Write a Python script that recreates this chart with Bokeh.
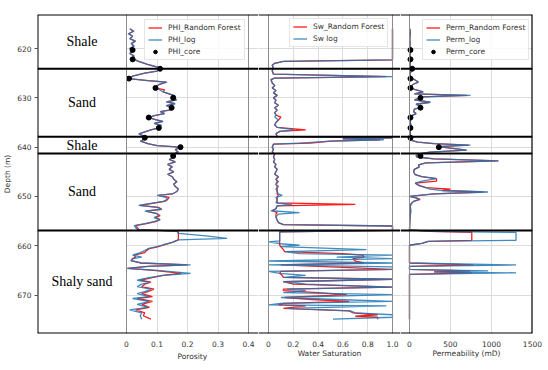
from bokeh.plotting import figure
from bokeh.layouts import row
from bokeh.models import Range1d, FixedTicker, Span, Legend, LegendItem, Title
from bokeh.core.properties import value
from bokeh.embed import file_html
from bokeh.resources import INLINE

# ---------------- data ----------------
zone_edges = [613.1, 624.1, 637.9, 641.3, 656.9, 677.8]
zone_names = ["Shale", "Sand", "Shale", "Sand", "Shaly sand"]
depth_ticks = [620, 630, 640, 650, 660, 670]
phi_ticks = [0, 0.1, 0.2, 0.3, 0.4]
sw_ticks = [0, 0.2, 0.4, 0.6, 0.8, 1.0]
perm_ticks = [0, 500, 1000, 1500]

phi_depth = [616.0, 616.5, 617.0, 617.5, 618.0, 618.5, 619.0, 619.5, 620.0, 620.5,
             621.0, 621.5, 622.1, 622.6, 623.2, 623.7, 624.1, 624.6, 625.0, 625.6,
             626.1, 626.5, 626.8, 627.2, 627.6, 628.0, 628.4, 628.8, 629.2, 629.6,
             630.0, 630.4, 630.8, 631.2, 631.6, 632.0, 632.4, 632.8, 633.2, 633.6,
             634.0, 634.4, 634.8, 635.2, 635.6, 636.1, 636.5, 636.9, 637.3, 637.8,
             638.3, 638.8, 639.3, 639.7, 640.0, 640.5, 641.0, 641.5, 642.0, 642.5,
             643.0, 643.5, 644.0, 644.5, 645.0, 645.5, 646.0, 646.5, 647.0, 647.5,
             648.0, 648.5, 649.0, 649.5, 649.8, 650.2, 650.6, 651.0, 651.4, 651.8,
             652.2, 652.6, 653.0, 653.5, 653.9, 654.3, 654.7, 655.1, 655.5, 655.9,
             656.3, 656.7, 657.1, 657.5, 658.0, 658.5, 658.8, 659.3, 659.8, 660.2,
             660.6, 661.0, 661.4, 661.9, 662.3, 662.6, 663.0, 663.5, 663.9, 664.2,
             664.6, 665.0, 665.6, 666.0, 666.5, 667.0, 667.4, 667.8, 668.3, 668.8,
             669.3, 669.7, 670.3, 670.7, 671.3, 671.9, 672.5, 673.0, 673.6, 674.2,
             674.9]
phi_log = [0.010, 0.025, 0.005, 0.020, 0.010, 0.030, 0.015, 0.025, 0.010, 0.020,
           0.010, 0.025, 0.020, 0.040, 0.070, 0.100, 0.110, 0.100, 0.060, 0.020,
           0.005, 0.070, 0.133, 0.110, 0.100, 0.095, 0.110, 0.120, 0.140, 0.160,
           0.153, 0.165, 0.130, 0.160, 0.130, 0.148, 0.150, 0.110, 0.125, 0.090,
           0.073, 0.095, 0.120, 0.090, 0.115, 0.106, 0.080, 0.060, 0.040, 0.057,
           0.060, 0.045, 0.070, 0.100, 0.177, 0.160, 0.170, 0.150, 0.155, 0.140,
           0.160, 0.135, 0.150, 0.140, 0.155, 0.135, 0.150, 0.155, 0.165, 0.155,
           0.160, 0.170, 0.165, 0.150, 0.100, 0.130, 0.135, 0.120, 0.080, 0.040,
           0.100, 0.115, 0.060, 0.100, 0.105, 0.090, 0.110, 0.090, 0.060, 0.025,
           0.030, 0.035, 0.166, 0.170, 0.260, 0.330, 0.170, 0.150, 0.120, 0.100,
           0.070, 0.060, 0.045, 0.020, 0.050, 0.020, 0.015, 0.050, 0.210, 0.070,
           0.000, 0.100, 0.210, 0.120, 0.070, 0.035, 0.075, 0.050, 0.035, 0.080,
           0.060, 0.035, 0.075, 0.020, 0.075, 0.035, 0.070, 0.010, 0.050, 0.045,
           0.050]
phi_rf = [0.012, 0.022, 0.008, 0.020, 0.012, 0.028, 0.016, 0.024, 0.012, 0.020,
          0.012, 0.024, 0.020, 0.040, 0.068, 0.098, 0.110, 0.100, 0.060, 0.020,
          0.010, 0.070, 0.130, 0.110, 0.100, 0.095, 0.125, 0.120, 0.140, 0.158,
          0.153, 0.162, 0.132, 0.158, 0.132, 0.148, 0.150, 0.112, 0.124, 0.092,
          0.075, 0.095, 0.118, 0.092, 0.113, 0.106, 0.080, 0.060, 0.042, 0.057,
          0.060, 0.047, 0.070, 0.100, 0.175, 0.160, 0.168, 0.150, 0.155, 0.140,
          0.160, 0.135, 0.150, 0.140, 0.155, 0.135, 0.150, 0.155, 0.165, 0.155,
          0.160, 0.170, 0.165, 0.150, 0.105, 0.140, 0.135, 0.125, 0.085, 0.045,
          0.105, 0.115, 0.065, 0.100, 0.110, 0.095, 0.110, 0.095, 0.065, 0.030,
          0.035, 0.040, 0.170, 0.170, 0.170, 0.170, 0.170, 0.150, 0.125, 0.105,
          0.075, 0.065, 0.060, 0.025, 0.030, 0.020, 0.015, 0.045, 0.200, 0.070,
          0.005, 0.090, 0.180, 0.120, 0.080, 0.045, 0.080, 0.060, 0.050, 0.090,
          0.070, 0.050, 0.085, 0.035, 0.085, 0.050, 0.075, 0.030, 0.060, 0.055,
          0.080]

sw_depth = [616.0, 622.3, 622.6, 623.0, 623.4, 624.0, 624.5, 625.2, 625.7, 626.0,
            626.3, 627.0, 627.5, 628.0, 628.5, 629.0, 629.5, 630.0, 630.5, 631.0,
            631.5, 632.0, 632.5, 633.0, 633.5, 633.9, 634.5, 635.0, 635.5, 636.0,
            636.5, 636.8, 637.3, 637.8, 638.1, 638.3, 638.5, 638.8, 639.2, 639.4,
            640.0, 640.5, 641.0, 641.5, 642.0, 642.5, 643.0, 643.5, 644.0, 644.5,
            645.0, 645.5, 646.0, 646.5, 647.0, 647.5, 648.0, 648.5, 649.0, 649.5,
            649.8, 650.2, 650.8, 651.3, 651.6, 651.9, 652.5, 652.9, 653.3, 653.6,
            654.2, 654.8, 655.3, 655.7, 656.0, 656.9, 657.2, 659.0, 659.2, 659.6,
            659.9, 660.2, 660.8, 661.2, 661.6, 661.9, 662.3, 662.6, 663.1, 663.5,
            663.9, 664.3, 664.8, 665.2, 665.6, 666.0, 666.4, 666.8, 667.3, 667.8,
            668.4, 668.8, 669.1, 669.5, 669.9, 670.5, 670.9, 671.3, 671.7, 672.0,
            672.2, 672.7, 673.2, 673.6, 674.0, 674.3, 674.5, 674.9]
sw_log = [1.00, 1.00, 0.12, 0.05, 0.03, 0.04, 0.03, 0.04, 1.00, 0.05,
          0.02, 0.03, 0.05, 0.03, 0.06, 0.04, 0.07, 0.04, 0.06, 0.05,
          0.08, 0.05, 0.07, 0.05, 0.06, 0.05, 0.08, 0.06, 0.05, 0.07,
          0.21, 0.09, 0.06, 0.07, 1.00, 0.60, 0.93, 0.50, 0.25, 0.04,
          0.03, 0.04, 0.03, 0.05, 0.04, 0.05, 0.04, 0.06, 0.05, 0.07,
          0.06, 0.05, 0.08, 0.06, 0.07, 0.06, 0.08, 0.06, 0.07, 0.08,
          0.11, 0.06, 0.07, 0.06, 0.19, 0.07, 0.06, 0.02, 0.25, 0.08,
          0.06, 0.07, 0.08, 0.12, 1.00, 1.00, 0.09, 0.09, 0.00, 0.10,
          0.25, 0.10, 0.79, 0.13, 0.25, 1.00, 0.55, 1.00, 0.00, 1.00,
          0.00, 1.00, 1.00, 0.00, 0.09, 0.30, 0.12, 1.00, 0.12, 0.30,
          1.00, 0.15, 0.30, 0.12, 1.00, 0.10, 0.55, 1.00, 0.10, 0.00,
          0.95, 0.15, 0.66, 0.70, 1.00, 1.00, 1.00, 0.52]
sw_rf = [1.00, 1.00, 0.12, 0.05, 0.03, 0.04, 0.03, 0.04, 0.95, 0.05,
         0.02, 0.03, 0.05, 0.03, 0.06, 0.04, 0.07, 0.04, 0.06, 0.05,
         0.08, 0.05, 0.07, 0.05, 0.06, 0.10, 0.08, 0.06, 0.05, 0.07,
         0.30, 0.09, 0.06, 0.07, 1.00, 0.60, 0.90, 0.50, 0.34, 0.04,
         0.03, 0.04, 0.03, 0.05, 0.04, 0.05, 0.04, 0.06, 0.05, 0.07,
         0.06, 0.05, 0.08, 0.06, 0.08, 0.06, 0.07, 0.07, 0.07, 0.07,
         0.08, 0.07, 0.07, 0.07, 0.70, 0.07, 0.06, 0.03, 0.07, 0.06,
         0.06, 0.07, 0.08, 0.12, 1.00, 1.00, 0.09, 0.09, 0.09, 0.09,
         0.09, 0.10, 0.12, 0.13, 0.60, 0.76, 0.77, 0.68, 0.70, 0.77,
         0.10, 0.50, 1.00, 0.10, 0.09, 0.11, 0.12, 1.00, 0.12, 0.20,
         1.00, 0.12, 0.12, 0.40, 0.63, 0.13, 0.35, 0.65, 0.12, 0.08,
         0.30, 0.12, 0.65, 0.68, 0.88, 0.70, 0.88, 0.88]

perm_depth = [616.0, 617.0, 618.0, 619.0, 619.7, 620.5, 621.5, 622.5, 623.5, 624.1,
              625.0, 625.8, 626.3, 626.8, 627.3, 627.8, 628.3, 628.8, 629.2, 629.5,
              629.8, 630.0, 630.4, 630.9, 631.3, 631.9, 632.3, 632.8, 633.2, 633.6,
              634.2, 635.0, 635.8, 636.5, 637.3, 638.1, 638.6, 639.0, 639.3, 639.6,
              639.9, 640.2, 640.6, 641.0, 641.3, 641.7, 642.0, 642.4, 642.8, 643.2,
              643.6, 644.0, 644.5, 645.0, 645.6, 646.0, 646.4, 646.9, 647.3, 647.8,
              648.2, 648.5, 648.8, 649.1, 649.5, 650.0, 650.3, 650.6, 651.0, 651.5,
              652.0, 653.0, 654.0, 655.0, 656.8, 657.1, 657.3, 658.9, 659.1, 659.5,
              659.9, 663.5, 663.9, 664.2, 664.8, 665.1, 665.3, 665.5, 665.8, 674.9]
perm_log = [5, 10, 3, 8, 5, 10, 5, 12, 8, 30,
            10, 5, 60, 110, 40, 20, 60, 170, 60, 744,
            150, 134, 60, 256, 80, 150, 60, 50, 80, 30,
            15, 10, 20, 8, 12, 5, 15, 100, 300, 744,
            354, 500, 703, 250, 134, 80, 90, 300, 1089, 200,
            110, 120, 60, 50, 70, 150, 330, 150, 70, 120,
            200, 250, 400, 958, 300, 0, 80, 120, 50, 20,
            10, 15, 8, 5, 0, 260, 1300, 1300, 230, 150,
            0, 0, 1300, 0, 0, 960, 300, 1300, 0, 0]
perm_rf = [5, 10, 4, 8, 5, 10, 6, 12, 8, 30,
           10, 5, 60, 105, 40, 20, 60, 165, 60, 700,
           150, 134, 60, 250, 80, 150, 60, 50, 80, 30,
           15, 10, 20, 8, 12, 5, 15, 100, 300, 720,
           354, 500, 690, 250, 134, 80, 90, 300, 1080, 200,
           110, 120, 60, 50, 70, 150, 330, 330, 70, 120,
           200, 500, 400, 900, 300, 0, 80, 130, 50, 20,
           10, 15, 8, 5, 0, 260, 760, 760, 230, 150,
           0, 0, 780, 0, 0, 740, 300, 760, 0, 0]

core_depth = [620.3, 622.2, 624.1, 626.1, 628.0, 630.0, 632.0, 634.0, 636.1, 638.1, 640.0, 641.8]
core_phi = [0.02, 0.02, 0.11, 0.008, 0.095, 0.153, 0.148, 0.073, 0.106, 0.06, 0.177, 0.153]
core_perm = [12, 12, 33, 12, 12, 134, 134, 12, 12, 12, 358, 134]

# ---------------- styling ----------------
RED = "#ff1a1a"
BLUE = "#1f77b4"
GRID = "#dcdcdc"
SPINE = "#8c8c8c"
TXT = "#333333"
H = 361
TOP, BOTTOM = zone_edges[0], zone_edges[-1]


def base(width, xr, left, right, ticks, label):
    p = figure(width=width, height=H, x_range=Range1d(*xr), y_range=Range1d(BOTTOM, TOP),
               output_backend="svg", toolbar_location=None,
               min_border_left=left, min_border_right=right,
               min_border_top=14, min_border_bottom=28)
    p.outline_line_color = None
    p.ygrid.ticker = FixedTicker(ticks=depth_ticks)
    p.xgrid.ticker = FixedTicker(ticks=ticks[1:-1])
    p.grid.grid_line_color = GRID
    p.grid.grid_line_width = 1
    ax = p.xaxis[0]
    ax.ticker = FixedTicker(ticks=ticks)
    ax.bounds = (ticks[0], ticks[-1])
    ax.axis_label = label
    ax.major_tick_out = 0
    ax.major_tick_in = 0
    ax.minor_tick_out = 0
    ax.minor_tick_in = 0
    ax.axis_line_color = None
    ax.major_label_text_font = "DejaVu Sans"
    ax.major_label_text_font_size = "7.5px"
    ax.major_label_text_color = TXT
    ax.major_label_standoff = 7
    ax.axis_label_text_font = "DejaVu Sans"
    ax.axis_label_text_font_size = "7.5px"
    ax.axis_label_text_font_style = "normal"
    ax.axis_label_text_color = TXT
    ax.axis_label_standoff = -1
    # zero / end lines of the track
    for loc in (ticks[0], ticks[-1]):
        p.add_layout(Span(location=loc, dimension="height", line_color=SPINE, line_width=1))
    return p


def boundaries(p):
    for d in zone_edges:
        p.add_layout(Span(location=d, dimension="width", line_color="black", line_width=2))


def legend(p, items, x, y):
    lg = Legend(items=items, location=(x, y))
    lg.label_text_font = "DejaVu Sans"
    lg.label_text_font_size = "7.5px"
    lg.label_text_color = TXT
    lg.label_height = 9
    lg.glyph_height = 9
    lg.glyph_width = 14
    lg.label_standoff = 6
    lg.spacing = 3
    lg.padding = 3
    lg.margin = 0
    lg.border_line_color = "#cccccc"
    lg.background_fill_alpha = 0.85
    p.add_layout(lg)


# ---------- track 1: lithology + porosity ----------
phi_x0 = -89 / 305
p1 = base(258, (phi_x0, 0.4 + 10 / 305), 37, 0, phi_ticks, "")
# axis title of the porosity scale, centred under 0..0.4 (frame starts 89 px left of 0)
p1.add_layout(Title(text="Porosity", align="left", offset=140, standoff=0,
                    text_font="DejaVu Sans", text_font_size="7.5px",
                    text_font_style="normal", text_color=TXT), "below")
p1.quad(left=phi_x0, right=0, top=TOP, bottom=BOTTOM, fill_color="white", line_color=None)
p1.add_layout(Span(location=0, dimension="height", line_color=SPINE, line_width=1))
mids = [(a + b) / 2 for a, b in zip(zone_edges[:-1], zone_edges[1:])]
p1.text(x=[phi_x0 / 2] * len(zone_names), y=mids, text=zone_names,
        text_font=value("Liberation Serif"), text_font_size="14px",
        text_align="center", text_baseline="middle", text_color="black")
r1 = p1.line(phi_rf, phi_depth, line_color=RED, line_width=1.3)
b1 = p1.line(phi_log, phi_depth, line_color=BLUE, line_width=1.3, line_alpha=0.85)
c1 = p1.scatter(core_phi, core_depth, size=5, color="black")
boundaries(p1)
p1.add_layout(Span(location=phi_x0, dimension="height", line_color="black", line_width=2))
ya = p1.yaxis[0]
ya.ticker = FixedTicker(ticks=depth_ticks)
ya.axis_label = "Depth (m)"
ya.major_tick_out = 3
ya.major_tick_in = 0
ya.minor_tick_out = 0
ya.minor_tick_in = 0
ya.axis_line_color = None
ya.major_tick_line_color = "#555555"
ya.major_label_text_font = "DejaVu Sans"
ya.major_label_text_font_size = "7.5px"
ya.major_label_text_color = TXT
ya.major_label_standoff = 3
ya.axis_label_text_font = "DejaVu Sans"
ya.axis_label_text_font_size = "7.5px"
ya.axis_label_text_font_style = "normal"
ya.axis_label_text_color = TXT
ya.axis_label_standoff = 2
legend(p1, [LegendItem(label="PHI_Random Forest", renderers=[r1]),
            LegendItem(label="PHI_log", renderers=[b1]),
            LegendItem(label="PHI_core", renderers=[c1])], 107, 273)

# ---------- track 2: water saturation ----------
p2 = base(142, (-10 / 124, 1 + 8 / 124), 0, 0, sw_ticks, "Water Saturation")
p2.xaxis[0].major_label_overrides = {1: "1.0"}
p2.yaxis.visible = False
r2 = p2.line(sw_rf, sw_depth, line_color=RED, line_width=1.3)
b2 = p2.line(sw_log, sw_depth, line_color=BLUE, line_width=1.3, line_alpha=0.85)
boundaries(p2)
legend(p2, [LegendItem(label="Sw_Random Forest", renderers=[r2]),
            LegendItem(label="Sw log", renderers=[b2])], 31, 286)

# ---------- track 3: permeability ----------
p3 = base(144, (-9 * 1500 / 123, 1501), 0, 12, perm_ticks, "Permeability (mD)")
p3.yaxis.visible = False
r3 = p3.line(perm_rf, perm_depth, line_color=RED, line_width=1.3)
b3 = p3.line(perm_log, perm_depth, line_color=BLUE, line_width=1.3, line_alpha=0.85)
c3 = p3.scatter(core_perm, core_depth, size=5, color="black")
boundaries(p3)
p3.add_layout(Span(location=1500, dimension="height", line_color="black", line_width=2))
legend(p3, [LegendItem(label="Perm_Random Forest", renderers=[r3]),
            LegendItem(label="Perm_log", renderers=[b3]),
            LegendItem(label="Perm_core", renderers=[c3])], 22, 273)

layout = row(p1, p2, p3, spacing=0)
open("out.html", "w").write(file_html(layout, INLINE))
